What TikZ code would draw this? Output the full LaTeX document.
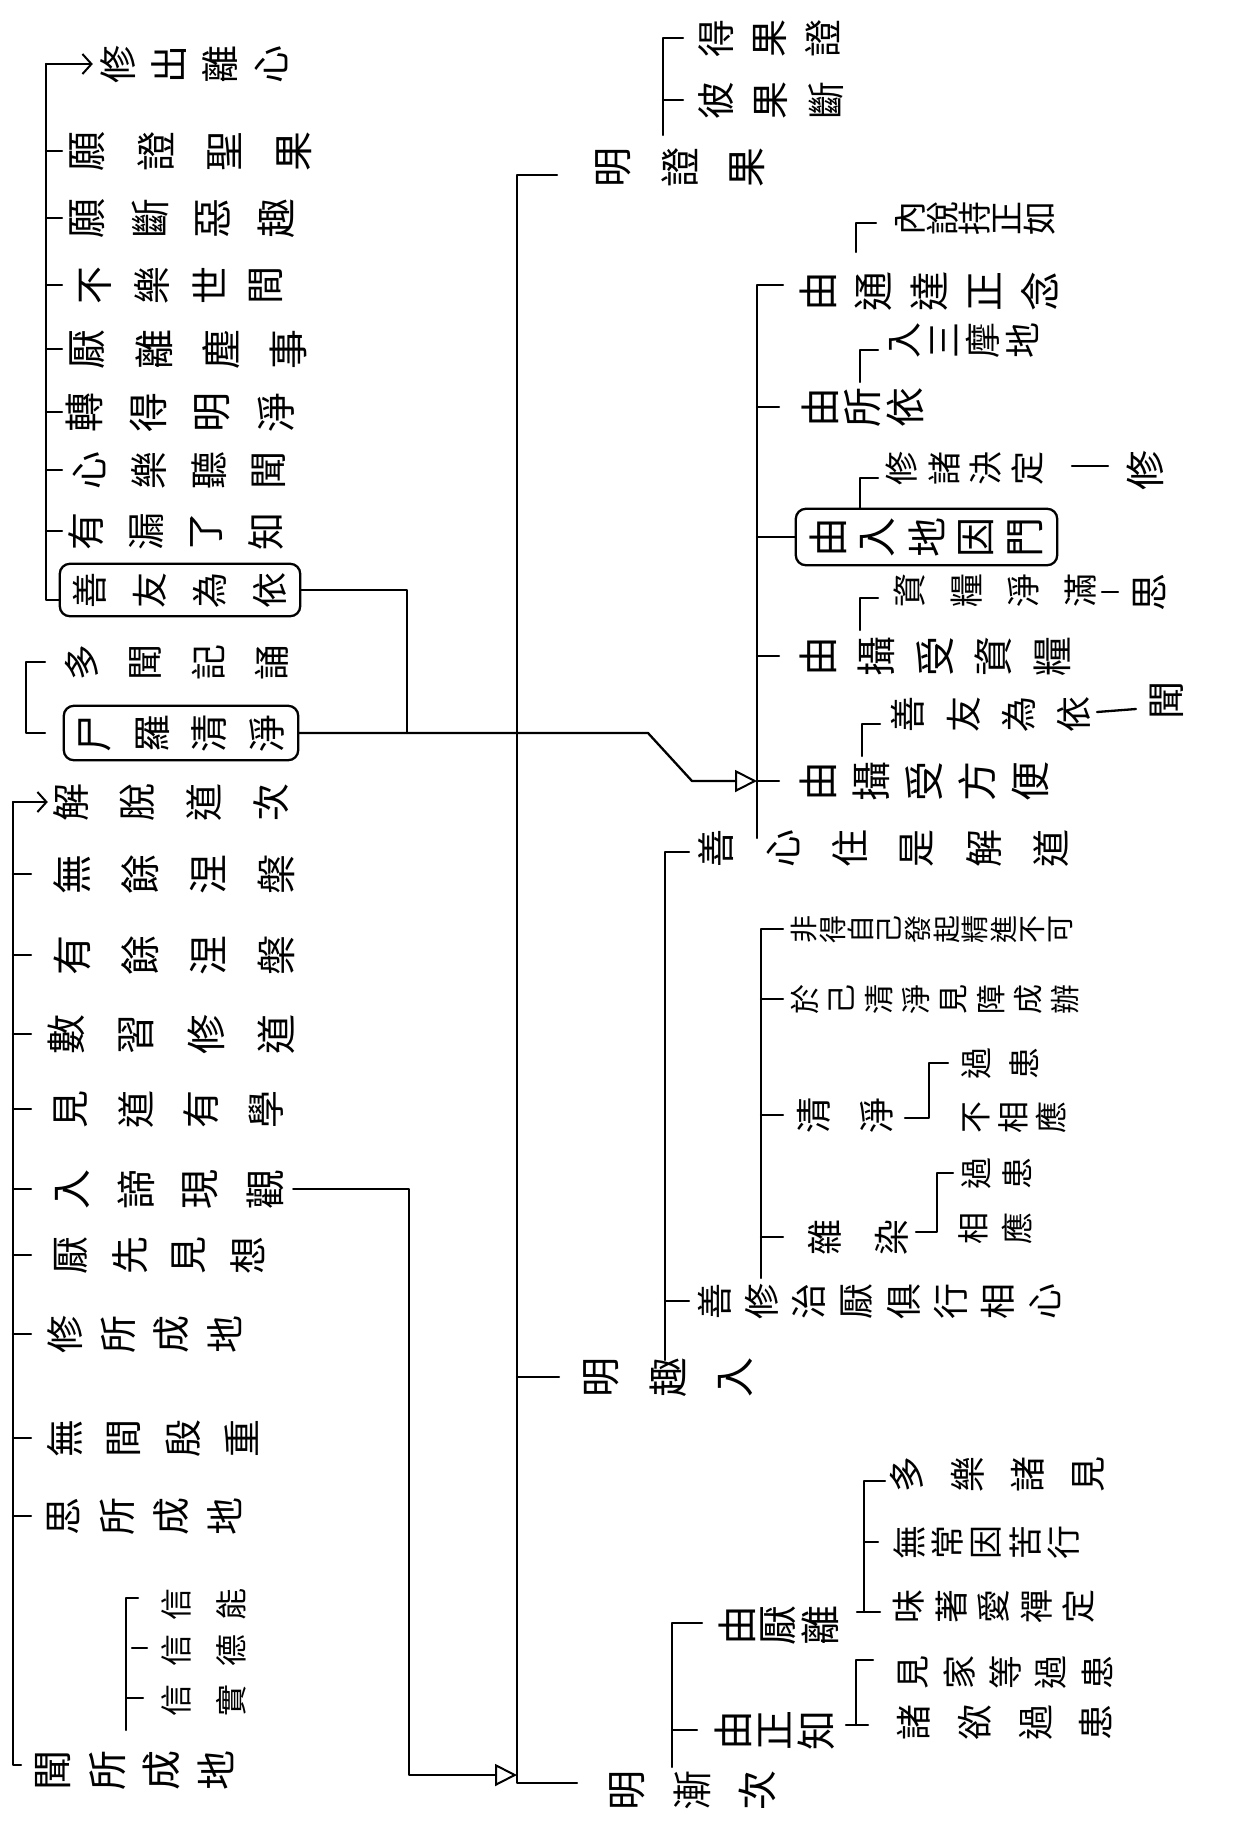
\documentclass[tikz,border=0pt]{standalone}
\usepackage{fontspec}
\newfontfamily\cjk{Noto Sans CJK TC}
\usetikzlibrary{arrows.meta,fit}
\def\gsz{36}
\tikzset{
  glyph/.style={rotate=90,inner sep=0pt,font=\cjk\fontsize{\gsz}{\gsz}\selectfont},
  rowbox/.style={inner sep=0pt},
  ln/.style={line width=2.3pt,line cap=round,line join=round},
  boxed/.style={draw,line width=2.3pt,rounded corners=10pt,inner xsep=12pt,inner ysep=8pt},
  opentri/.style={-{Triangle[open,length=22pt,width=22pt,line width=2pt]}},
  barb/.style={-{Straight Barb[length=9pt,width=20pt,line width=2pt]}},
}
\ExplSyntaxOn
\fp_new:N \l_rw_gap_fp
\int_new:N \l_rw_n_int
\int_new:N \l_rw_i_int
\tl_new:N \l_rw_x_tl
\tl_new:N \l_rw_c_tl
\tl_new:N \l_rw_w_tl
\NewDocumentCommand \hrow { O{} m m m m m m }
 {
  \def\gsz{#6}
  \int_set:Nn \l_rw_n_int { \tl_count:n {#7} }
  \fp_set:Nn \l_rw_gap_fp { ( (#4) - (#3) - \l_rw_n_int * (#6) ) / max( \l_rw_n_int - 1 , 1 ) }
  \tl_set:Nx \l_rw_c_tl { \fp_eval:n { ((#3)+(#4))/2 } }
  \tl_set:Nx \l_rw_w_tl { \fp_eval:n { (#4)-(#3) } }
  \node[rowbox,minimum~width=\l_rw_w_tl pt,minimum~height=#6pt,#1] (#2) at (\l_rw_c_tl,#5) {};
  \int_zero:N \l_rw_i_int
  \tl_map_inline:nn {#7}
   {
     \tl_set:Nx \l_rw_x_tl { \fp_eval:n { (#3) + (#6)/2 + \l_rw_i_int * ( (#6) + \l_rw_gap_fp ) } }
     \node[glyph] at (\l_rw_x_tl,#5) {##1};
     \int_incr:N \l_rw_i_int
   }
 }
\ExplSyntaxOff
\begin{document}
\begin{tikzpicture}[x=1pt,y=-1pt]
\fill[white] (0,0) rectangle (1250,1821);
\useasboundingbox (0,0) rectangle (1250,1821);

% ---------- top right: 明證果 ----------
\hrow{t1}{697}{842}{38}{38}{得果證}
\hrow{t2}{697}{845}{100}{38}{彼果斷}
\hrow{mz}{593}{767}{167}{40}{明證果}
\coordinate (b0t) at (663,38);
\coordinate (b0b) at (663,135);
\draw[ln] (b0t) ++(20,0) -- (b0t) -- (b0b);
\draw[ln] (b0t |- t2.west) -- ++(20,0);

% ---------- main spine ----------
\hrow{mq}{581}{755}{1377}{40}{明趣入}
\hrow{mj}{607}{777}{1790}{40}{明漸次}
\coordinate (mvt) at (517,175);
\coordinate (mvb) at (517,1783);
\draw[ln] (mvt) ++(40,0) -- (mvt) -- (mvb) -- ++(60,0);
\draw[ln] (mvt |- mq.west) -- ++(42,0);

% ---------- upper right subtree ----------
\hrow{a1c}{893}{1057}{218}{34}{內說持正如}
\hrow{a1}{798}{1060}{291}{40}{由通達正念}
\hrow{a2c}{887}{1040}{340}{36}{入三摩地}
\hrow{a2}{800}{925}{407}{40}{由所依}
\hrow{a3c}{885}{1045}{468}{34}{修諸決定}
\hrow{a3g}{1125}{1172}{470}{40}{修}
\hrow{a3}{808}{1045}{537}{40}{由入地因門}
\node[boxed,fit=(a3)] (a3box) {};
\hrow{a4c}{893}{1098}{590}{34}{資糧淨滿}
\hrow{a4g}{1130}{1172}{592}{38}{思}
\hrow{a4}{798}{1072}{656}{40}{由攝受資糧}
\hrow{a5c}{890}{1092}{714}{36}{善友為依}
\hrow{a5g}{1148}{1188}{700}{38}{聞}
\hrow{a5}{798}{1050}{781}{40}{由攝受方便}
\hrow{q0}{697}{1070}{848}{38}{善心住是解道}

\coordinate (v1t) at (757,285);
\coordinate (v1b) at (757,838);
\draw[ln] (v1t) ++(26,0) -- (v1t) -- (v1b);
\foreach \r in {a2,a4,a5} \draw[ln] (v1t |- \r.west) -- ++(22,0);
\draw[ln] (v1t |- a3box.west) -- (a3box.west);
% sub brackets
\draw[ln] (876,223) -- (856,223) -- (856,252);
\draw[ln] (878,350) -- (860,350) -- (860,382);
\draw[ln] (878,478) -- (860,478) -- (860,508);
\draw[ln] (878,598) -- (860,598) -- (860,630);
\draw[ln] (880,724) -- (862,724) -- (862,756);
% gloss dashes
\draw[ln] (1072,466) -- (1108,466);
\draw[ln] (1102,592) -- (1118,592);
\draw[ln] (1097,712) -- (1136,709);

% ---------- 明趣入 subtree ----------
\hrow{q1}{790}{1075}{929}{28}{非得自己發起精進不可}
\hrow{q2}{790}{1080}{999}{30}{於己清淨見障成辦}
\hrow{q3}{796}{895}{1115}{36}{清淨}
\hrow{q3a}{960}{1040}{1063}{32}{過患}
\hrow{q3b}{960}{1067}{1117}{32}{不相應}
\hrow{q4}{807}{910}{1237}{36}{雜染}
\hrow{q4a}{960}{1033}{1173}{32}{過患}
\hrow{q4b}{957}{1033}{1228}{32}{相應}
\hrow{q5}{697}{1063}{1301}{36}{善修治厭俱行相心}

\coordinate (v2t) at (665,852);
\coordinate (v2b) at (665,1360);
\draw[ln] (v2t) ++(24,0) -- (v2t) -- (v2b);
\draw[ln] (v2t |- q5.west) -- ++(24,0);
\coordinate (v3t) at (761,929);
\coordinate (v3b) at (761,1278);
\draw[ln] (v3t) ++(22,0) -- (v3t) -- (v3b);
\foreach \r in {q2,q3,q4} \draw[ln] (v3t |- \r.west) -- ++(22,0);
\draw[ln] (948,1063) -- (929,1063) -- (929,1118) -- (905,1118);
\draw[ln] (953,1173) -- (937,1173) -- (937,1232) -- (916,1232);

% ---------- 明漸次 subtree ----------
\hrow{j1}{717}{840}{1625}{40}{由厭離}
\hrow{j2}{713}{836}{1730}{40}{由正知}
\hrow{j1a}{889}{1106}{1474}{36}{多樂諸見}
\hrow{j1b}{892}{1081}{1542}{34}{無常因苦行}
\hrow{j1c}{892}{1096}{1606}{34}{味著愛禪定}
\hrow{j2a}{896}{1114}{1672}{34}{見家等過患}
\hrow{j2b}{896}{1114}{1722}{36}{諸欲過患}
\coordinate (v4t) at (672,1623);
\coordinate (v4b) at (672,1767);
\draw[ln] (v4t) ++(30,0) -- (v4t) -- (v4b);
\draw[ln] (v4t |- j2.west) -- ++(25,0);
\draw[ln] (885,1481) -- (864,1481) -- (864,1612);
\draw[ln] (864,1542) -- (878,1542);
\draw[ln] (857,1612) -- (880,1612);
\draw[ln] (873,1660) -- (856,1660) -- (856,1725);
\draw[ln] (846,1725) -- (868,1725);

% ---------- left column, upper list ----------
\hrow{l1}{99}{290}{64}{38}{修出離心}
\hrow{l2}{67}{314}{151}{40}{願證聖果}
\hrow{l3}{67}{296}{218}{40}{願斷惡趣}
\hrow{l4}{76}{285}{285}{38}{不樂世間}
\hrow{l5}{67}{308}{349}{40}{厭離塵事}
\hrow{l6}{64}{296}{412}{40}{轉得明淨}
\hrow{l7}{70}{288}{470}{38}{心樂聽聞}
\hrow{l8}{67}{285}{531}{38}{有漏了知}
\hrow{l9}{72}{288}{590}{36}{善友為依}
\node[boxed,fit=(l9)] (l9box) {};
\coordinate (lvt) at (46,64);
\coordinate (lvb) at (46,600);
\draw[ln] (lvb) ++(14,0) -- (lvb) -- (lvt);
\draw[ln,barb,shorten >=6pt] (lvt) -- (l1.west);
\foreach \r in {l2,l3,l4,l5,l6,l7,l8} \draw[ln] (lvt |- \r.west) -- ++(16,0);

% ---------- left, second group ----------
\hrow{m1}{64}{290}{662}{36}{多聞記誦}
\hrow{m2}{76}{286}{733}{38}{尸羅清淨}
\node[boxed,fit=(m2)] (m2box) {};
\draw[ln] (45,662) -- (26,662) -- (26,733) -- (45,733);
\coordinate (jn) at (407,733);
\draw[ln] (l9box.east) -| (jn);
\coordinate (k1) at (648,733);
\coordinate (k2) at (692,781);
\draw[ln,opentri] (m2box.east) -- (k1) -- (k2) -- (v1t |- a5.west);

% ---------- left column, lower list ----------
\hrow{n1}{52}{290}{802}{38}{解脫道次}
\hrow{n2}{52}{296}{874}{40}{無餘涅槃}
\hrow{n3}{52}{296}{955}{40}{有餘涅槃}
\hrow{n4}{46}{296}{1034}{40}{數習修道}
\hrow{n5}{52}{285}{1109}{38}{見道有學}
\hrow{n6}{52}{285}{1189}{40}{入諦現觀}
\hrow{n7}{52}{267}{1255}{38}{厭先見想}
\hrow{n8}{46}{244}{1334}{38}{修所成地}
\hrow{n9}{46}{261}{1438}{38}{無間殷重}
\hrow{n10}{44}{244}{1516}{38}{思所成地}
\hrow{s1}{160}{247}{1604}{32}{信能}
\hrow{s2}{160}{247}{1650}{32}{信德}
\hrow{s3}{160}{247}{1700}{32}{信實}
\hrow{n11}{33}{236}{1770}{40}{聞所成地}
\coordinate (nvt) at (13,802);
\coordinate (nvb) at (13,1765);
\draw[ln] (nvb) ++(8,0) -- (nvb) -- (nvt);
\draw[ln,barb,shorten >=4pt] (nvt) -- (n1.west);
\foreach \r in {n2,n3,n4,n5,n6,n7,n8,n9,n10} \draw[ln] (nvt |- \r.west) -- ++(18,0);
\draw[ln] (138,1598) -- (126,1598) -- (126,1730);
\draw[ln] (132,1648) -- (147,1648);
\draw[ln] (127,1698) -- (143,1698);
\coordinate (nk) at (409,1775);
\draw[ln,opentri] ([xshift=8pt]n6.east) -| (nk) -- (mvt |- nk);
\end{tikzpicture}
\end{document}
